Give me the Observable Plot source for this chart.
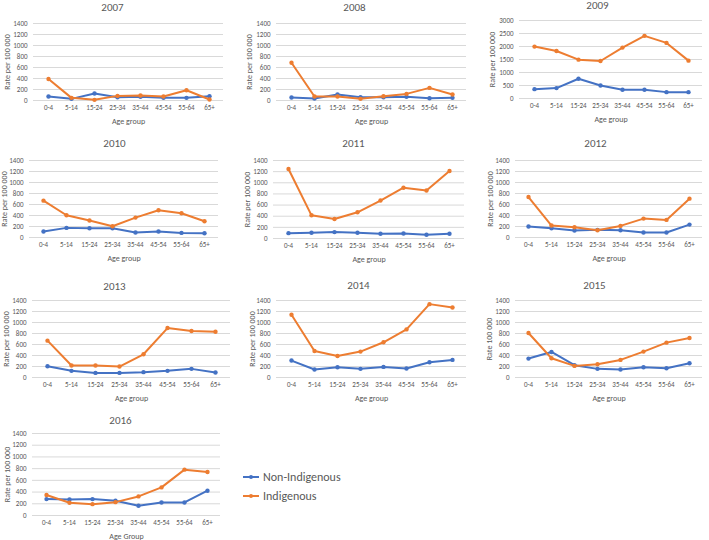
<!DOCTYPE html>
<html>
<head>
<meta charset="utf-8">
<script src="https://cdn.jsdelivr.net/npm/d3@7"></script>
<script src="https://cdn.jsdelivr.net/npm/@observablehq/plot@0.6"></script>
<style>
  html, body { margin: 0; padding: 0; background: #fff; }
  #chart { position: relative; width: 709px; height: 540px; background: #fff; overflow: hidden;
           font-family: Carlito, Lato, "Open Sans", sans-serif; color: #595959; }
  .panel { position: absolute; }
  #legend { position: absolute; left: 243px; top: 467px; font-size: 12px; color: #595959; }
  #legend .row { display: flex; align-items: center; height: 19px; }
  #legend svg { margin-right: 3px; }
</style>
</head>
<body>
<div id="chart"></div>
<script>
// ---- data ----
const ages = ["0-4", "5-14", "15-24", "25-34", "35-44", "45-54", "55-64", "65+"];
const years = ["2007", "2008", "2009", "2010", "2011", "2012", "2013", "2014", "2015", "2016"];
const seriesNames = ["Non-Indigenous", "Indigenous"];

const nonIndigenous2007 = [72, 30, 126, 60, 66, 48, 48, 78];
const indigenous2007    = [390, 48, 12, 84, 90, 72, 186, 18];
const nonIndigenous2008 = [54, 36, 108, 60, 60, 66, 42, 48];
const indigenous2008    = [687, 72, 72, 30, 78, 120, 229, 108];
const nonIndigenous2009 = [360, 400, 760, 502, 335, 335, 245, 245];
const indigenous2009    = [1996, 1829, 1494, 1443, 1958, 2409, 2138, 1456];
const nonIndigenous2010 = [108, 175, 169, 169, 90, 108, 84, 78];
const indigenous2010    = [670, 404, 308, 205, 362, 495, 440, 296];
const nonIndigenous2011 = [96, 102, 115, 102, 84, 90, 66, 84];
const indigenous2011    = [1248, 416, 350, 470, 681, 911, 862, 1212];
const nonIndigenous2012 = [199, 169, 127, 139, 133, 90, 90, 235];
const indigenous2012    = [736, 217, 187, 133, 211, 344, 320, 706];
const nonIndigenous2013 = [205, 121, 84, 84, 97, 121, 157, 90];
const indigenous2013    = [670, 217, 217, 199, 422, 899, 845, 833];
const nonIndigenous2014 = [308, 145, 187, 157, 193, 163, 278, 320];
const indigenous2014    = [1141, 483, 392, 471, 640, 875, 1334, 1273];
const nonIndigenous2015 = [344, 465, 223, 157, 145, 187, 169, 260];
const indigenous2015    = [809, 350, 211, 241, 320, 471, 634, 718];
const nonIndigenous2016 = [280, 274, 280, 251, 166, 223, 223, 423];
const indigenous2016    = [349, 217, 194, 228, 326, 480, 783, 743];

const yTicksStandard = [0, 200, 400, 600, 800, 1000, 1200, 1400];
const yTicks2009 = [0, 500, 1000, 1500, 2000, 2500, 3000];

const yLabels = ["Rate per 100 000", "Rate per 100 000", "Rate per 100 000", "Rate per 100 000",
  "Rate per 100 000", "Rate per 100 000", "Rate per 100 000", "Rate per 100 000",
  "Rate 100 000", "Rate per 100 000"];
const xLabels = ["Age group", "Age group", "Age group", "Age group", "Age group",
  "Age group", "Age group", "Age group", "Age group", "Age Group"];

const nonIndigenousByYear = [nonIndigenous2007, nonIndigenous2008, nonIndigenous2009, nonIndigenous2010,
  nonIndigenous2011, nonIndigenous2012, nonIndigenous2013, nonIndigenous2014, nonIndigenous2015, nonIndigenous2016];
const indigenousByYear = [indigenous2007, indigenous2008, indigenous2009, indigenous2010,
  indigenous2011, indigenous2012, indigenous2013, indigenous2014, indigenous2015, indigenous2016];
const yTicksByYear = [yTicksStandard, yTicksStandard, yTicks2009, yTicksStandard, yTicksStandard,
  yTicksStandard, yTicksStandard, yTicksStandard, yTicksStandard, yTicksStandard];

// ---- layout (positions / styling only) ----
const layout = [
  {px: 0,   py: 0,   w: 236, ml: 33, mr: 13, mt: 23, mb: 35, tx: 112, ty: 7,  ylx: 7},
  {px: 236, py: 0,   w: 236, ml: 40, mr: 6,  mt: 23, mb: 35, tx: 118, ty: 7,  ylx: 13},
  {px: 472, py: 0,   w: 237, ml: 47, mr: 7,  mt: 20, mb: 37, tx: 125, ty: 5,  ylx: 20},
  {px: 0,   py: 135, w: 236, ml: 29, mr: 18, mt: 25, mb: 33, tx: 114, ty: 8,  ylx: 4},
  {px: 236, py: 135, w: 236, ml: 37, mr: 8,  mt: 25, mb: 32, tx: 117, ty: 8,  ylx: 11},
  {px: 472, py: 135, w: 237, ml: 43, mr: 7,  mt: 25, mb: 33, tx: 123, ty: 8,  ylx: 18},
  {px: 0,   py: 270, w: 236, ml: 32, mr: 6,  mt: 30, mb: 28, tx: 114, ty: 16, ylx: 6},
  {px: 236, py: 270, w: 236, ml: 40, mr: 6,  mt: 30, mb: 28, tx: 122, ty: 15, ylx: 16},
  {px: 472, py: 270, w: 237, ml: 43, mr: 7,  mt: 30, mb: 28, tx: 122, ty: 15, ylx: 17},
  {px: 0,   py: 405, w: 236, ml: 32, mr: 16, mt: 28, mb: 25, tx: 120, ty: 15, ylx: 7}
];
const colors = ["#4472C4", "#ED7D31"];
const textColor = "#595959";
const fontFamily = "Carlito, Lato, 'Open Sans', sans-serif";

const chart = document.getElementById("chart");

years.forEach((year, i) => {
  const L = layout[i];
  const ticks = yTicksByYear[i];
  const blue = ages.map((a, j) => ({age: a, v: nonIndigenousByYear[i][j]}));
  const orange = ages.map((a, j) => ({age: a, v: indigenousByYear[i][j]}));
  const svg = Plot.plot({
    width: L.w, height: 135,
    marginLeft: L.ml, marginRight: L.mr, marginTop: L.mt, marginBottom: L.mb,
    style: {fontFamily, fontSize: "7px", color: textColor, background: "transparent", overflow: "visible"},
    x: {type: "point", domain: ages, padding: 0.5, tickSize: 0, tickPadding: 5, label: null},
    y: {domain: [ticks[0], ticks[ticks.length - 1]], ticks: ticks, tickFormat: d => String(d),
        tickSize: 0, tickPadding: 6, label: null},
    marks: [
      Plot.ruleY(ticks, {stroke: "#D9D9D9", strokeWidth: 1}),
      Plot.line(blue, {x: "age", y: "v", stroke: colors[0], strokeWidth: 2}),
      Plot.dot(blue, {x: "age", y: "v", r: 2.2, fill: colors[0]}),
      Plot.line(orange, {x: "age", y: "v", stroke: colors[1], strokeWidth: 2}),
      Plot.dot(orange, {x: "age", y: "v", r: 2.2, fill: colors[1]}),
      Plot.text([year], {text: d => d, frameAnchor: "top-left", dx: L.tx - L.ml, dy: L.ty - L.mt,
        textAnchor: "middle", lineAnchor: "middle", fontSize: 11, fill: textColor}),
      Plot.text([yLabels[i]], {text: d => d, frameAnchor: "left", dx: L.ylx - L.ml, rotate: -90,
        textAnchor: "middle", lineAnchor: "middle", fontSize: 8, fill: textColor}),
      Plot.text([xLabels[i]], {text: d => d, frameAnchor: "bottom", dy: 21,
        textAnchor: "middle", lineAnchor: "middle", fontSize: 8, fill: textColor})
    ]
  });
  const div = document.createElement("div");
  div.className = "panel";
  div.style.left = L.px + "px";
  div.style.top = L.py + "px";
  div.appendChild(svg);
  chart.appendChild(div);
});

// legend
const legend = document.createElement("div");
legend.id = "legend";
seriesNames.forEach((name, k) => {
  const row = document.createElement("div");
  row.className = "row";
  row.innerHTML = `<svg width="17" height="10"><line x1="0" x2="16" y1="5" y2="5" stroke="${colors[k]}" stroke-width="2"/><circle cx="8" cy="5" r="2" fill="${colors[k]}"/></svg><span>${name}</span>`;
  legend.appendChild(row);
});
chart.appendChild(legend);
</script>
</body>
</html>
